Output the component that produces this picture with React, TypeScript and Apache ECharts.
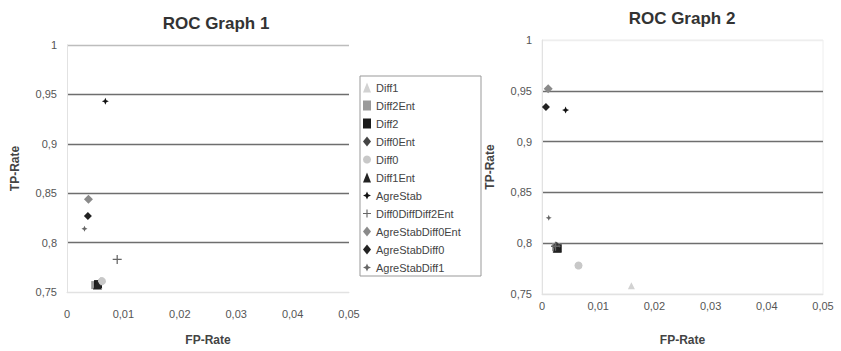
import React, { useEffect, useRef } from "react";
import * as echarts from "echarts";

const seriesNames = [
  "Diff1",
  "Diff2Ent",
  "Diff2",
  "Diff0Ent",
  "Diff0",
  "Diff1Ent",
  "AgreStab",
  "Diff0DiffDiff2Ent",
  "AgreStabDiff0Ent",
  "AgreStabDiff0",
  "AgreStabDiff1",
];

// [FP-Rate, TP-Rate] per series
const graph1Points: number[][] = [
  [0.0057, 0.757],
  [0.005, 0.757],
  [0.0055, 0.758],
  [0.006, 0.76],
  [0.0062, 0.761],
  [0.0054, 0.757],
  [0.0068, 0.943],
  [0.0089, 0.783],
  [0.0038, 0.844],
  [0.0037, 0.827],
  [0.0031, 0.814],
];

const graph2Points: number[][] = [
  [0.0159, 0.758],
  [0.0025, 0.796],
  [0.0028, 0.795],
  [0.0026, 0.797],
  [0.0065, 0.778],
  [0.0027, 0.795],
  [0.0042, 0.931],
  [0.0024, 0.797],
  [0.0011, 0.952],
  [0.0007, 0.934],
  [0.0012, 0.825],
];

const yTicks = { min: 0.75, max: 1, interval: 0.05 };
const xTicks = { min: 0, max: 0.05, interval: 0.01 };

const PLUS = "path://M4.3,0H5.7V4.3H10V5.7H5.7V10H4.3V5.7H0V4.3H4.3Z";
const STAR = "path://M5,0L6.5,3.5L10,5L6.5,6.5L5,10L3.5,6.5L0,5L3.5,3.5Z";

const styles: { symbol: string; color: string; size: number }[] = [
  { symbol: "triangle", color: "#d2d2d2", size: 7 },
  { symbol: "rect", color: "#9a9a9a", size: 8 },
  { symbol: "rect", color: "#1a1a1a", size: 8 },
  { symbol: "diamond", color: "#444444", size: 9 },
  { symbol: "circle", color: "#c8c8c8", size: 8 },
  { symbol: "triangle", color: "#222222", size: 9 },
  { symbol: STAR, color: "#111111", size: 7 },
  { symbol: PLUS, color: "#666666", size: 9 },
  { symbol: "diamond", color: "#8a8a8a", size: 9 },
  { symbol: "diamond", color: "#222222", size: 8 },
  { symbol: STAR, color: "#666666", size: 6 },
];

const fmt = (v: number) => String(Number(v.toFixed(2))).replace(".", ",");

export default function App() {
  const ref = useRef<HTMLDivElement>(null);
  useEffect(() => {
    if (!ref.current) return;
    const chart = echarts.init(ref.current, undefined, { renderer: "svg" });
    const font = "Liberation Sans";
    const mkX = (idx: number, labelMargin: number, nameGap: number) => ({
      type: "value",
      gridIndex: idx,
      min: xTicks.min,
      max: xTicks.max,
      interval: xTicks.interval,
      name: "FP-Rate",
      nameLocation: "middle",
      nameGap,
      nameTextStyle: { fontFamily: font, fontSize: 12, fontWeight: "bold", color: "#444" },
      axisLine: { show: true, lineStyle: { color: "#e2e2e2" } },
      axisTick: { show: false },
      axisLabel: { formatter: fmt, fontFamily: font, fontSize: 11, color: "#555", margin: labelMargin },
      splitLine: { show: false },
    });
    const mkY = (idx: number, topColor: string) => ({
      type: "value",
      gridIndex: idx,
      min: yTicks.min,
      max: yTicks.max,
      interval: yTicks.interval,
      name: "TP-Rate",
      nameLocation: "middle",
      nameGap: 46,
      nameRotate: 90,
      nameTextStyle: { fontFamily: font, fontSize: 12, fontWeight: "bold", color: "#444" },
      axisLine: { show: true, lineStyle: { color: "#e2e2e2" } },
      axisTick: { show: false },
      axisLabel: { formatter: fmt, fontFamily: font, fontSize: 11, color: "#555", margin: 10 },
      splitLine: {
        show: true,
        lineStyle: { color: ["#e2e2e2", "#6e6e6e", "#6e6e6e", "#6e6e6e", "#6e6e6e", topColor], width: 1.3 },
      },
    });
    const mkSeries = (points: number[][], idx: number) =>
      seriesNames.map((name, i) => ({
        name,
        type: "scatter",
        xAxisIndex: idx,
        yAxisIndex: idx,
        symbol: styles[i].symbol,
        symbolSize: styles[i].size,
        itemStyle: { color: styles[i].color, opacity: 1 },
        data: [points[i]],
      }));
    chart.setOption({
      animation: false,
      backgroundColor: "#ffffff",
      title: [
        {
          text: "ROC Graph 1",
          left: 211,
          top: 10,
          textAlign: "center",
          textStyle: { fontFamily: font, fontSize: 17, fontWeight: "bold", color: "#333" },
        },
        {
          text: "ROC Graph 2",
          left: 677,
          top: 5,
          textAlign: "center",
          textStyle: { fontFamily: font, fontSize: 17, fontWeight: "bold", color: "#333" },
        },
      ],
      grid: [
        { left: 67, top: 45, width: 282, height: 255 },
        { left: 542, top: 40, width: 281, height: 255, show: true, borderColor: "#eeeeee", borderWidth: 1 },
      ],
      xAxis: [mkX(0, 16, 42), mkX(1, 6, 40)],
      yAxis: [mkY(0, "#bdbdbd"), mkY(1, "#eeeeee")],
      legend: {
        orient: "vertical",
        left: 360,
        top: 76,
        padding: [6, 8, 2, 3],
        itemWidth: 8,
        itemHeight: 10,
        itemGap: 7,
        data: seriesNames,
        textStyle: { fontFamily: font, fontSize: 11, color: "#444", lineHeight: 10 },
      },
      graphic: [
        {
          type: "rect",
          shape: { x: 360, y: 76, width: 121, height: 200 },
          style: { fill: "none", stroke: "#999", lineWidth: 1 },
          silent: true,
        },
      ],
      series: [...mkSeries(graph1Points, 0), ...mkSeries(graph2Points, 1)],
    });
    return () => chart.dispose();
  }, []);
  return (
    <div
      ref={ref}
      style={{ position: "absolute", left: 0, top: 0, width: 841, height: 351 }}
    />
  );
}
